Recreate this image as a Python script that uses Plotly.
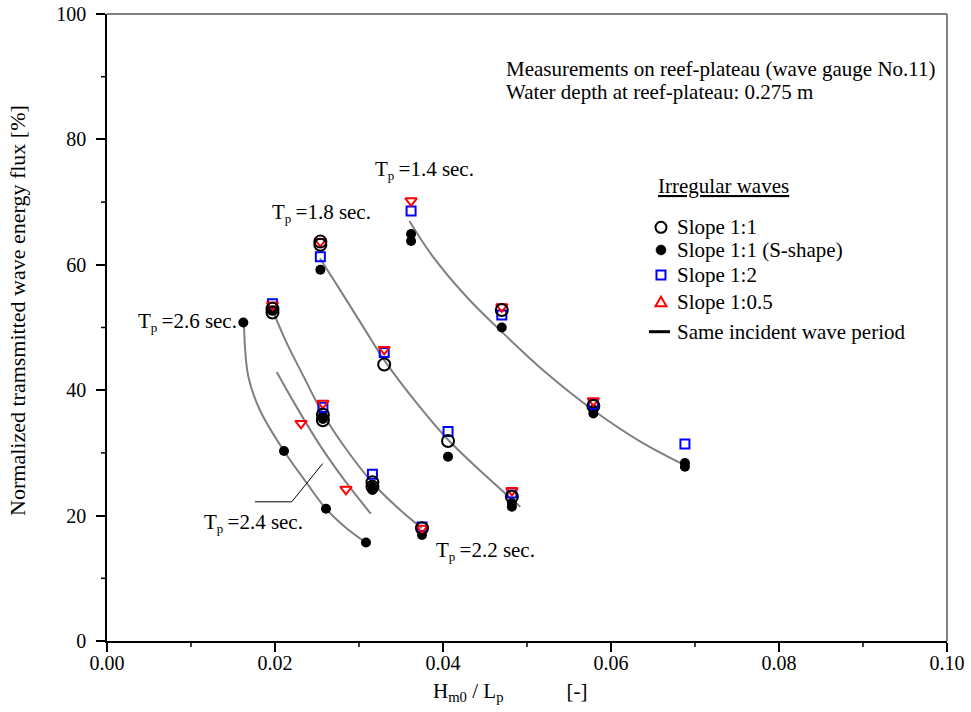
import plotly.graph_objects as go

# ---- measured points: H_m0/L_p  vs  normalized transmitted energy flux [%] ----
# Slope 1:1 (open circles)
slope11_x = [0.0470, 0.0579, 0.0254, 0.0254, 0.0330, 0.0406, 0.0482,
             0.0197, 0.0197, 0.0257, 0.0257, 0.0316, 0.0316, 0.0375]
slope11_y = [52.8, 37.5, 63.2, 63.7, 44.1, 31.9, 23.0,
             53.0, 52.4, 36.1, 35.2, 25.3, 24.6, 18.0]

# Slope 1:1, S-shape (filled circles)
slope11s_x = [0.0362, 0.0362, 0.0470, 0.0579, 0.0579, 0.0688, 0.0688,
              0.0254, 0.0406, 0.0482, 0.0482,
              0.0197, 0.0257, 0.0257, 0.0316, 0.0316, 0.0375,
              0.01623, 0.02107, 0.02607, 0.03083]
slope11s_y = [64.9, 63.8, 50.0, 36.9, 36.3, 28.4, 27.8,
              59.2, 29.4, 22.0, 21.4,
              52.7, 35.9, 35.4, 24.6, 24.1, 16.9,
              50.8, 30.3, 21.1, 15.7]

# Slope 1:2 (open squares)
slope12_x = [0.0362, 0.0470, 0.0579, 0.0688, 0.0254, 0.0330, 0.0406, 0.0482,
             0.0197, 0.0257, 0.0316, 0.0375]
slope12_y = [68.6, 52.0, 37.7, 31.4, 61.3, 46.0, 33.4, 23.6,
             53.8, 37.3, 26.6, 18.2]

# Slope 1:0.5 (open triangles)
slope105_x = [0.0362, 0.0470, 0.0579, 0.0254, 0.0330, 0.0482,
              0.0197, 0.0257, 0.0375, 0.0231, 0.02845]
slope105_y = [70.2, 53.3, 38.3, 63.7, 46.5, 24.0,
              53.6, 37.9, 18.0, 34.7, 24.2]

# ---- lines of equal incident peak period ----
tp14_x = [0.0360, 0.0388, 0.0428, 0.0470, 0.05234, 0.0579, 0.0635, 0.0684]
tp14_y = [67.0, 61.3, 54.9, 49.3, 42.7, 36.8, 31.8, 28.3]
tp18_x = [0.02536, 0.02774, 0.0305, 0.0330, 0.0369, 0.0406, 0.0448, 0.0492]
tp18_y = [61.0, 56.0, 50.1, 44.8, 37.9, 32.1, 26.7, 21.4]
tp22_x = [0.0198, 0.0214, 0.0234, 0.02568, 0.02853, 0.03163, 0.03448, 0.03746]
tp22_y = [52.5, 47.5, 42.2, 36.3, 30.5, 25.2, 21.4, 18.0]
tp24_x = [0.0202, 0.02258, 0.02536, 0.02813, 0.0314]
tp24_y = [42.9, 37.3, 31.2, 25.9, 20.3]
tp26_x = [0.01631, 0.01682, 0.01821, 0.02107, 0.02377, 0.0260, 0.02833, 0.03083]
tp26_y = [50.4, 42.2, 36.8, 30.3, 25.2, 21.2, 18.2, 15.7]

period_lines = [(tp14_x, tp14_y), (tp18_x, tp18_y), (tp22_x, tp22_y),
                (tp24_x, tp24_y), (tp26_x, tp26_y)]

# axis ticks
x_major = [0, 0.02, 0.04, 0.06, 0.08, 0.10]
x_minor = [0.01, 0.03, 0.05, 0.07, 0.09]
y_major = [0, 20, 40, 60, 80, 100]
y_minor = [10, 30, 50, 70, 90]

# legend labels (drawn as a key block inside the plot)
legend_labels = ["Slope 1:1", "Slope 1:1 (S-shape)", "Slope 1:2", "Slope 1:0.5",
                 "Same incident wave period"]

FONT = "Liberation Serif, Times New Roman, serif"
GRAY = "#808080"
BLUE = "#0000ff"
RED = "#ff0000"

W, H = 971, 712
M = dict(l=107, r=24, t=14, b=71)
PLOT_W = W - M["l"] - M["r"]
PLOT_H = H - M["t"] - M["b"]

fig = go.Figure()

# period curves
for cx, cy in period_lines:
    fig.add_trace(go.Scatter(x=cx, y=cy, mode="lines", showlegend=False,
                             line=dict(color=GRAY, width=2, shape="spline"),
                             hoverinfo="skip"))

# measurement markers
fig.add_trace(go.Scatter(x=slope11s_x, y=slope11s_y, mode="markers", showlegend=False,
                         name=legend_labels[1],
                         marker=dict(symbol="circle", size=10, color="black")))
fig.add_trace(go.Scatter(x=slope12_x, y=slope12_y, mode="markers", showlegend=False,
                         name=legend_labels[2],
                         marker=dict(symbol="square-open", size=9, color=BLUE,
                                     line=dict(width=2, color=BLUE))))
fig.add_trace(go.Scatter(x=slope105_x, y=slope105_y, mode="markers", showlegend=False,
                         name=legend_labels[3],
                         marker=dict(symbol="triangle-down-open", size=10, color=RED,
                                     line=dict(width=2, color=RED))))
fig.add_trace(go.Scatter(x=slope11_x, y=slope11_y, mode="markers", showlegend=False,
                         name=legend_labels[0],
                         marker=dict(symbol="circle-open", size=12, color="black",
                                     line=dict(width=2, color="black"))))

axis_common = dict(
    showgrid=False, zeroline=False, showline=True, linecolor="black", linewidth=1.5,
    ticks="outside", ticklen=9, tickwidth=1.5, tickcolor="black", automargin=False,
    tickfont=dict(family=FONT, size=20, color="black"),
)

fig.update_xaxes(range=[0, 0.1], tickvals=x_major, tickformat=".2f",
                 ticklabelstandoff=-6, **axis_common)
fig.update_yaxes(range=[0, 100], tickvals=y_major, ticklabelstandoff=6, **axis_common)

txt = dict(family=FONT, size=21, color="black")
NB = "\u00a0"
TP = "T<sub><span style='font-size:13px'>p</span></sub>" + "\u2009="

annotations = [
    dict(x=-0.106, y=0.528, xref="paper", yref="paper", xanchor="center", yanchor="middle",
         textangle=-90, text="Normalized tramsmitted wave energy flux [%]",
         showarrow=False, font=dict(family=FONT, size=22, color="black")),
    dict(x=0.48, y=-0.057, xref="paper", yref="paper", xanchor="center", yanchor="top",
         text="H<sub>m0</sub> / L<sub>p</sub>" + NB * 12 + "[-]",
         showarrow=False, font=txt),
    dict(x=0.03167, y=75.1, xanchor="left", text=TP + "1.4 sec.", showarrow=False, font=txt),
    dict(x=0.0194, y=68.2, xanchor="left", text=TP + "1.8 sec.", showarrow=False, font=txt),
    dict(x=0.00345, y=50.9, xanchor="left", text=TP + "2.6 sec.", showarrow=False, font=txt),
    dict(x=0.01127, y=18.9, xanchor="left", text=TP + "2.4 sec.", showarrow=False, font=txt),
    dict(x=0.0389, y=14.4, xanchor="left", text=TP + "2.2 sec.", showarrow=False, font=txt),
    dict(x=0.04722, y=91.3, xanchor="left", yanchor="middle",
         text="Measurements on reef-plateau (wave gauge No.11)", showarrow=False, font=txt),
    dict(x=0.04722, y=87.5, xanchor="left", yanchor="middle",
         text="Water depth at reef-plateau: 0.275 m", showarrow=False, font=txt),
    dict(x=0.0654, y=72.6, xanchor="left", yanchor="middle", text="<u>Irregular waves</u>",
         showarrow=False, font=txt),
]

# key block: symbol column and text column, one row per entry
key_sym_x = 0.06595
key_txt_x = 0.0676
key_rows = [65.98, 62.36, 58.37, 54.02, 49.33]
for label, ry in zip(legend_labels, key_rows):
    annotations.append(dict(x=key_txt_x, y=ry, xanchor="left", yanchor="middle",
                            text=label, showarrow=False, font=txt))

def key_shape(kind, ry):
    base = dict(xref="x", yref="y", xsizemode="pixel", ysizemode="pixel",
                xanchor=key_sym_x, yanchor=ry)
    if kind == "circle-open":
        return dict(type="circle", x0=-5.5, x1=5.5, y0=-5.5, y1=5.5,
                    line=dict(color="black", width=2), **base)
    if kind == "circle":
        return dict(type="circle", x0=-5, x1=5, y0=-5, y1=5, fillcolor="black",
                    line=dict(color="black", width=0.5), **base)
    if kind == "square":
        return dict(type="rect", x0=-4.5, x1=4.5, y0=-4.5, y1=4.5,
                    line=dict(color=BLUE, width=2), **base)
    if kind == "triangle":
        return dict(type="path", path="M -5.5,-4 L 5.5,-4 L 0,5.5 Z",
                    line=dict(color=RED, width=2), **base)
    return dict(type="path", path="M -12,0 L 9,0",
                line=dict(color="black", width=3), **base)

shapes = [key_shape(k, ry) for k, ry in
          zip(["circle-open", "circle", "square", "triangle", "line"], key_rows)]

# minor tick marks (6 px, outside the frame)
tick_line = dict(color="black", width=1.5)
minor_len_y = 6 / PLOT_H
minor_len_x = 6 / PLOT_W
for v in x_minor:
    shapes.append(dict(type="line", xref="x", yref="paper",
                       x0=v, x1=v, y0=0, y1=-minor_len_y, line=tick_line))
for v in y_minor:
    shapes.append(dict(type="line", xref="paper", yref="y",
                       x0=0, x1=-minor_len_x, y0=v, y1=v, line=tick_line))

shapes += [
    # top and right frame
    dict(type="line", xref="paper", yref="paper", x0=0, x1=1, y0=1, y1=1,
         line=dict(color=GRAY, width=2)),
    dict(type="line", xref="paper", yref="paper", x0=1, x1=1, y0=0, y1=1,
         line=dict(color=GRAY, width=2)),
    # leader line to the 2.4 s label
    dict(type="path", path="M 0.02568,28.3 L 0.02199,22.2 L 0.01762,22.2",
         line=dict(color="black", width=1)),
]

fig.update_layout(
    template="none",
    width=W, height=H,
    margin=dict(**M, autoexpand=False),
    paper_bgcolor="white", plot_bgcolor="white",
    font=txt,
    showlegend=False,
    annotations=annotations,
    shapes=shapes,
)

fig.write_html("out.html")
